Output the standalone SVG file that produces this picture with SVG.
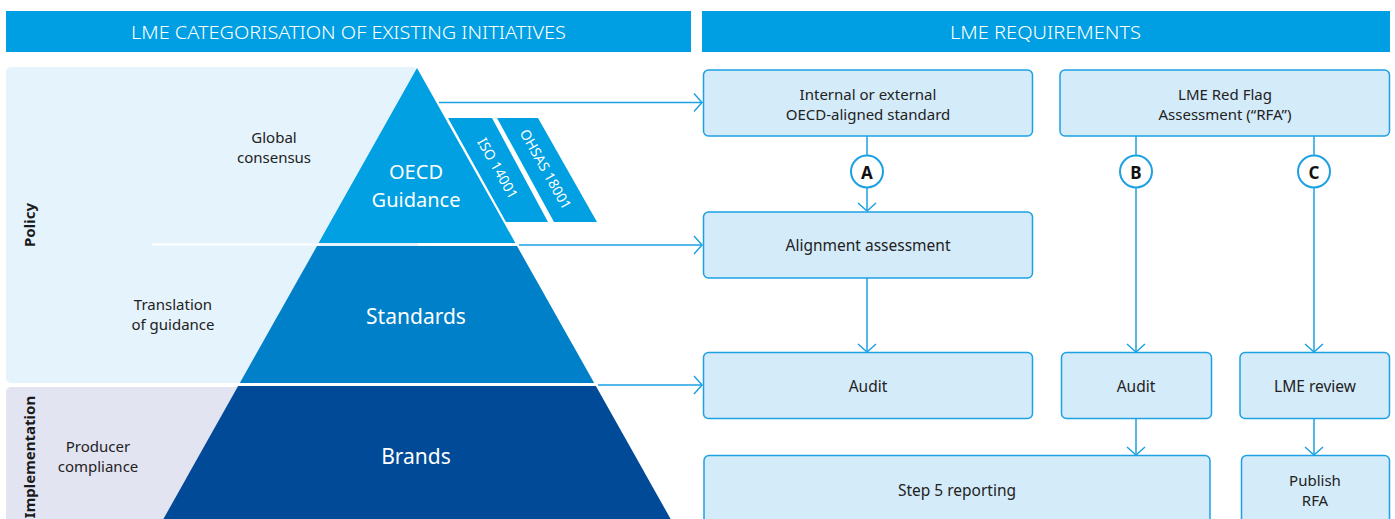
<svg xmlns="http://www.w3.org/2000/svg" width="1395" height="519" viewBox="0 0 1395 519">
<style>
text{font-family:"Noto Sans","Open Sans","Liberation Sans",sans-serif;dominant-baseline:central;text-anchor:middle}
.hdr{fill:#009fe3}
.hdrt{fill:#ffffff;font-size:19px;font-weight:300}
.lbl{fill:#222222;font-size:15px}
.pyr{fill:#ffffff;font-size:21px}
.pyr2{fill:#ffffff;font-size:20px}
.side{fill:#1a1a1a;font-size:15px;font-weight:700}
.tag{fill:#ffffff;font-size:14px}
.box{fill:#d4ebfa;stroke:#1da1e3;stroke-width:1.5}
.btxt{fill:#222222;font-size:15.5px}
.btxt2{fill:#222222;font-size:15px}
.conn{fill:none;stroke:#1da1e3;stroke-width:1.5}
.circ{fill:#ffffff;stroke:#1da1e3;stroke-width:2}
.ctxt{fill:#111111;font-size:17px;font-weight:700}
</style>
<defs>
<marker id="arr" markerUnits="userSpaceOnUse" viewBox="-10 -10 12 20" markerWidth="12" markerHeight="20" refX="0" refY="0" orient="auto">
<path d="M-8,-9 L0,0 L-8,9" fill="none" stroke="#1da1e3" stroke-width="1.5"/>
</marker>
</defs>
<rect width="1395" height="519" fill="#ffffff"/>

<g id="header-left">
<rect class="hdr" x="6" y="11" width="685" height="41"/>
<text class="hdrt" x="348.5" y="32" textLength="435" lengthAdjust="spacingAndGlyphs">LME CATEGORISATION OF EXISTING INITIATIVES</text>
</g>
<g id="header-right">
<rect class="hdr" x="702" y="11" width="688" height="41"/>
<text class="hdrt" x="1045.5" y="32" textLength="191" lengthAdjust="spacingAndGlyphs">LME REQUIREMENTS</text>
</g>

<g id="panel-policy">
<rect x="6" y="67" width="412" height="316" rx="5" fill="#e5f3fc"/>
<text class="side" transform="translate(29,225) rotate(-90)">Policy</text>
<text class="lbl" x="274" y="137">Global</text>
<text class="lbl" x="274" y="157">consensus</text>
<text class="lbl" x="173" y="304">Translation</text>
<text class="lbl" x="173" y="324">of guidance</text>
</g>
<g id="panel-implementation">
<rect x="6" y="387" width="300" height="140" rx="5" fill="#e3e4f2"/>
<text class="side" transform="translate(29,457) rotate(-90)">Implementation</text>
<text class="lbl" x="98" y="446">Producer</text>
<text class="lbl" x="98" y="466">compliance</text>
</g>

<line x1="152" y1="244.5" x2="320" y2="244.5" stroke="#ffffff" stroke-width="2"/>

<g id="pyr-oecd">
<polygon points="417,68 515.4,243 318.6,243" fill="#00a0e2"/>
<text class="pyr2" x="416" y="171.5">OECD</text>
<text class="pyr2" x="416" y="199">Guidance</text>
</g>
<g id="pyr-standards">
<polygon points="317,246 517,246 594.2,383 239.8,383" fill="#0080c8"/>
<text class="pyr" x="416" y="316">Standards</text>
</g>
<g id="pyr-brands">
<polygon points="238.1,386 595.9,386 674,525 160,525" fill="#004a98"/>
<text class="pyr" x="416" y="456">Brands</text>
</g>
<g id="tag-iso">
<polygon points="448,118 492,118 548,222 506,222" fill="#00a0e2"/>
<text class="tag" transform="translate(498,168) rotate(60.6)">ISO 14001</text>
</g>
<g id="tag-ohsas">
<polygon points="497,118 538,118 597,222 554,222" fill="#00a0e2"/>
<text class="tag" transform="translate(546,169) rotate(60.6)">OHSAS 18001</text>
</g>

<g id="box-standard">
<rect class="box" x="703.5" y="70" width="329" height="66" rx="5"/>
<text class="btxt2" x="868" y="93.5">Internal or external</text>
<text class="btxt2" x="868" y="114">OECD-aligned standard</text>
</g>
<g id="box-rfa">
<rect class="box" x="1060" y="70" width="329.5" height="66" rx="5"/>
<text class="btxt2" x="1225" y="93.5">LME Red Flag</text>
<text class="btxt2" x="1225" y="114">Assessment (“RFA”)</text>
</g>
<g id="box-alignment">
<rect class="box" x="703.5" y="212" width="329" height="66" rx="5"/>
<text class="btxt" x="868" y="245">Alignment assessment</text>
</g>
<g id="box-audit-a">
<rect class="box" x="703.5" y="352.5" width="329" height="66" rx="5"/>
<text class="btxt" x="868" y="386">Audit</text>
</g>
<g id="box-audit-b">
<rect class="box" x="1061.5" y="352.5" width="150" height="66" rx="5"/>
<text class="btxt" x="1136" y="386">Audit</text>
</g>
<g id="box-review">
<rect class="box" x="1240" y="352.5" width="149.5" height="66" rx="5"/>
<text class="btxt" x="1315" y="386">LME review</text>
</g>
<g id="box-step5">
<rect class="box" x="704" y="455.5" width="506" height="80" rx="5"/>
<text class="btxt" x="957" y="490">Step 5 reporting</text>
</g>
<g id="box-publish">
<rect class="box" x="1241.5" y="455.5" width="148" height="80" rx="5"/>
<text class="btxt2" x="1315" y="479.5">Publish</text>
<text class="btxt2" x="1315" y="500">RFA</text>
</g>

<g id="connectors">
<line class="conn" x1="439" y1="102.5" x2="702" y2="102.5" marker-end="url(#arr)"/>
<line class="conn" x1="519" y1="245" x2="702" y2="245" marker-end="url(#arr)"/>
<line class="conn" x1="598" y1="385" x2="702" y2="385" marker-end="url(#arr)"/>
<line class="conn" x1="867" y1="136" x2="867" y2="155"/>
<line class="conn" x1="867" y1="188" x2="867" y2="211" marker-end="url(#arr)"/>
<line class="conn" x1="867" y1="278" x2="867" y2="352" marker-end="url(#arr)"/>
<line class="conn" x1="1136" y1="136" x2="1136" y2="155"/>
<line class="conn" x1="1136" y1="188" x2="1136" y2="352" marker-end="url(#arr)"/>
<line class="conn" x1="1314" y1="136" x2="1314" y2="155"/>
<line class="conn" x1="1314" y1="188" x2="1314" y2="352" marker-end="url(#arr)"/>
<line class="conn" x1="1136" y1="419" x2="1136" y2="455" marker-end="url(#arr)"/>
<line class="conn" x1="1314" y1="419" x2="1314" y2="455" marker-end="url(#arr)"/>
</g>

<g id="label-a">
<circle class="circ" cx="867" cy="171.5" r="16"/>
<text class="ctxt" x="867" y="172">A</text>
</g>
<g id="label-b">
<circle class="circ" cx="1136" cy="171.5" r="16"/>
<text class="ctxt" x="1136" y="172">B</text>
</g>
<g id="label-c">
<circle class="circ" cx="1314" cy="171.5" r="16"/>
<text class="ctxt" x="1314" y="172">C</text>
</g>
</svg>
